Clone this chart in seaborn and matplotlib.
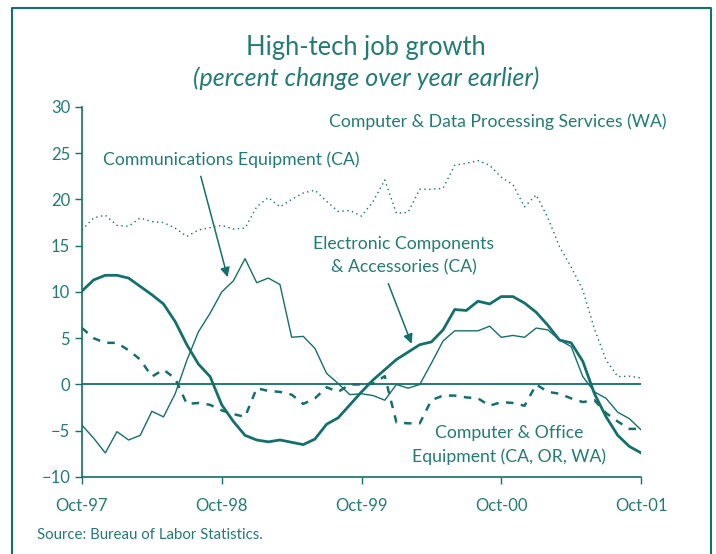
import numpy as np
import pandas as pd
import matplotlib
matplotlib.use('Agg')
import matplotlib.pyplot as plt
import seaborn as sns
from matplotlib.lines import Line2D

# monthly, Oct-97 .. Oct-01 (49 points)
months = np.arange(49)
tick_pos = [0, 12, 24, 36, 48]
tick_labels = ['Oct-97', 'Oct-98', 'Oct-99', 'Oct-00', 'Oct-01']

electronic = [10.1, 11.3, 11.8, 11.8, 11.5, 10.6, 9.7, 8.7, 6.8, 4.3,
              2.2, 0.85, -2.2, -4.0, -5.5, -6.0, -6.2, -6.0, -6.25, -6.5,
              -5.9, -4.3, -3.6, -2.2, -0.8, 0.5, 1.6, 2.7, 3.5, 4.3,
              4.6, 5.9, 8.1, 8.0, 9.0, 8.7, 9.5, 9.5, 8.8, 7.8,
              6.4, 4.8, 4.5, 2.5, -1.0, -3.5, -5.5, -6.7, -7.4]

communications = [-4.4, -5.8, -7.4, -5.1, -6.0, -5.5, -2.9, -3.5, -1.0, 2.6,
                  5.7, 7.7, 10.0, 11.2, 13.6, 11.0, 11.5, 10.8, 5.1, 5.2,
                  3.9, 1.2, 0.1, -1.1, -1.0, -1.2, -1.7, 0.0, -0.4, 0.0,
                  2.3, 4.7, 5.8, 5.8, 5.8, 6.3, 5.1, 5.3, 5.1, 6.1,
                  5.9, 4.8, 4.1, 0.85, -0.8, -1.5, -3.0, -3.7, -4.9]

office = [6.1, 5.0, 4.5, 4.5, 3.7, 2.7, 0.85, 1.6, 0.65, -2.1,
          -2.0, -2.2, -2.8, -3.2, -3.5, -0.4, -0.7, -0.8, -1.1, -2.1,
          -1.5, -0.3, -0.8, 0.0, 0.0, 0.1, 0.9, -4.1, -4.2, -4.2,
          -1.7, -1.2, -1.2, -1.4, -1.5, -2.3, -1.9, -2.0, -2.3, 0.0,
          -0.8, -1.0, -1.5, -1.9, -1.7, -3.1, -4.0, -4.8, -4.8]

data_services = [16.7, 18.0, 18.3, 17.2, 17.1, 18.0, 17.6, 17.5, 16.9, 16.0,
                 16.7, 16.95, 17.2, 16.8, 16.9, 19.2, 20.2, 19.2, 20.0, 20.7,
                 21.0, 19.8, 18.7, 18.8, 18.2, 19.8, 22.1, 18.5, 18.6, 21.1,
                 21.1, 21.2, 23.7, 23.9, 24.2, 23.7, 22.4, 21.6, 19.2, 20.5,
                 18.0, 14.9, 12.7, 10.2, 6.0, 2.65, 0.85, 0.9, 0.7]

teal = '#13706a'
text_teal = '#227b74'

plt.rcParams['font.family'] = ['Lato', 'DejaVu Sans']

fig = plt.figure(figsize=(7.16, 5.54), dpi=100)
ax = fig.add_axes([0.1145, 0.139, 0.7808, 0.668])

ax.axhline(0, color=teal, lw=1.3, zorder=1)
sns.lineplot(x=months, y=data_services, ax=ax, color=teal, lw=1.0,
             linestyle=(0, (1, 2.5)))
sns.lineplot(x=months, y=communications, ax=ax, color=teal, lw=1.0)
sns.lineplot(x=months, y=office, ax=ax, color=teal, lw=1.8,
             linestyle=(0, (3, 3)))
sns.lineplot(x=months, y=electronic, ax=ax, color=teal, lw=2.0)

ax.set_xlim(0, 48)
ax.set_ylim(-10, 30)
ax.set_yticks(range(-10, 31, 5))
ax.set_xticks(tick_pos)
ax.set_xticklabels(tick_labels)
for s in ['top', 'right']:
    ax.spines[s].set_visible(False)
for s in ['left', 'bottom']:
    ax.spines[s].set_color(teal)
    ax.spines[s].set_linewidth(1.2)
ax.tick_params(colors=teal, labelcolor=text_teal, labelsize=12, length=5,
               width=1.0)
ax.tick_params(axis='x', pad=10)
ax.set_xlabel('')
ax.set_ylabel('')

# annotations
fs = 12.7
arrow = dict(arrowstyle='-|>', color=teal, lw=1.1, shrinkA=0, shrinkB=0,
             mutation_scale=14)
ax.text(35.7, 28.4, 'Computer & Data Processing Services (WA)', color=text_teal,
        fontsize=fs, ha='center', va='center')
ax.text(1.8, 24.3, 'Communications Equipment (CA)', color=text_teal,
        fontsize=fs, ha='left', va='center')
ax.annotate('', xy=(12.5, 11.6), xytext=(10.2, 22.5), arrowprops=arrow)
ax.text(27.6, 13.9, 'Electronic Components\n& Accessories (CA)', color=text_teal,
        fontsize=fs, ha='center', va='center', linespacing=1.55)
ax.annotate('', xy=(28.3, 4.4), xytext=(26.3, 10.9), arrowprops=arrow)
ax.text(36.7, -6.5, 'Computer & Office\nEquipment (CA, OR, WA)', color=text_teal,
        fontsize=fs, ha='center', va='center', linespacing=1.55)

fig.text(0.511, 0.915, 'High-tech job growth', color=text_teal, fontsize=18.4,
         ha='center', va='center')
fig.text(0.511, 0.858, '(percent change over year earlier)', color=text_teal,
         fontsize=18, ha='center', va='center', style='italic')
fig.text(0.052, 0.035, 'Source: Bureau of Labor Statistics.', color=text_teal,
         fontsize=10.8, ha='left', va='center')

# frame around the figure (open at the bottom)
frame = Line2D([0.0165, 0.0165, 0.9935, 0.9935], [0.0, 0.985, 0.985, 0.0],
               transform=fig.transFigure, color=teal, lw=1.5)
fig.add_artist(frame)

fig.savefig('out.png', dpi=100)
